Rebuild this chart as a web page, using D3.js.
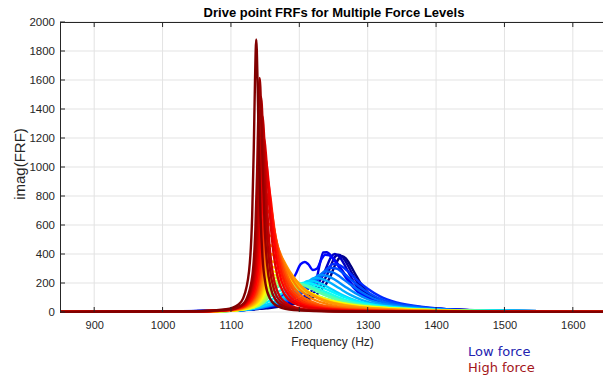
<!DOCTYPE html>
<html>
<head>
<meta charset="utf-8">
<script src="https://cdn.jsdelivr.net/npm/d3@7"></script>
<style>
  html, body { margin: 0; padding: 0; background: #ffffff; }
  svg { display: block; }
</style>
</head>
<body>
<svg id="chart" width="603" height="376"></svg>
<script>
// ---------------- DATA ----------------
const chartTitle = "Drive point FRFs for Multiple Force Levels";
const xAxisLabel = "Frequency (Hz)";
const yAxisLabel = "imag(FRF)";
const xTickValues = [900, 1000, 1100, 1200, 1300, 1400, 1500, 1600];
const yTickValues = [0, 200, 400, 600, 800, 1000, 1200, 1400, 1600, 1800, 2000];
const legendLabels = ["Low force", "High force"];

// normalised force level of each measured curve (0 = lowest, 1 = highest)
const forceLevels = [
  0.000, 0.033, 0.066, 0.099, 0.132, 0.165, 0.198, 0.231, 0.264, 0.297, 0.330, 0.363, 0.396, 0.429, 0.462,
  0.500, 0.525, 0.550, 0.575, 0.600, 0.625, 0.650, 0.675, 0.700, 0.725, 0.750,
  0.775, 0.800, 0.825, 0.850, 0.875, 0.900, 0.925, 0.950, 0.975, 1.000
];

// low-force curves: [frequency (Hz), imag(FRF)] pairs
const lowForceCurves = [
  [[850,1],[1000,3],[1100,10],[1150,25],[1200,65],[1230,140],[1245,240],[1252,320],[1258,370],[1263,385],[1268,370],[1275,320],[1282,260],[1290,195],[1300,135],[1315,85],[1335,52],[1370,32],[1420,18],[1500,7],[1650,2]],
  [[850,1],[1000,3],[1100,11],[1150,28],[1200,75],[1225,150],[1240,250],[1247,330],[1252,380],[1257,395],[1263,380],[1270,330],[1278,260],[1286,195],[1296,135],[1310,88],[1330,55],[1365,33],[1420,18],[1500,7],[1650,2]],
  [[850,1],[1000,3],[1100,12],[1150,30],[1195,80],[1220,155],[1235,255],[1242,335],[1247,385],[1252,400],[1258,385],[1265,335],[1273,265],[1281,200],[1291,140],[1305,92],[1325,57],[1360,34],[1420,18],[1500,7],[1650,2]],
  [[850,1],[1000,4],[1100,13],[1150,35],[1200,120],[1225,230],[1230,330],[1235,410],[1240,412],[1248,380],[1258,320],[1268,250],[1280,175],[1295,115],[1315,72],[1340,45],[1400,22],[1500,7],[1650,2]],
  [[850,1],[1000,4],[1100,15],[1150,45],[1175,110],[1185,190],[1194,255],[1202,330],[1208,345],[1213,330],[1220,290],[1226,300],[1232,360],[1238,395],[1244,390],[1252,350],[1262,280],[1272,210],[1285,140],[1300,95],[1320,60],[1350,38],[1400,20],[1500,6],[1650,2]],
  [[850,1],[1000,3],[1090,7],[1110,11],[1130,18],[1150,34],[1180,70],[1204,130],[1222,200],[1237,270],[1249,330],[1258,325],[1270,285],[1284,222],[1300,160],[1318,108],[1342,66],[1385,34],[1460,11],[1650,2]],
  [[850,1],[1000,3],[1090,7],[1110,11],[1130,19],[1150,35],[1178,70],[1200,125],[1216,185],[1231,250],[1244,305],[1254,300],[1266,262],[1280,205],[1296,148],[1314,100],[1338,62],[1380,32],[1460,10],[1650,2]],
  [[850,1],[1000,3],[1090,7],[1110,11],[1130,19],[1150,36],[1175,70],[1195,120],[1210,172],[1225,230],[1238,280],[1248,275],[1260,242],[1274,192],[1290,140],[1308,95],[1332,58],[1375,30],[1450,10],[1650,2]],
  [[850,1],[1000,3],[1090,7],[1110,11],[1130,20],[1150,38],[1172,70],[1190,115],[1205,165],[1218,215],[1230,255],[1240,250],[1252,222],[1266,178],[1282,130],[1300,88],[1325,54],[1370,27],[1450,10],[1650,2]],
  [[850,1],[1000,3],[1060,4],[1090,7],[1110,12],[1130,21],[1150,40],[1170,72],[1186,115],[1200,160],[1212,205],[1222,235],[1232,230],[1244,205],[1258,165],[1274,120],[1292,82],[1318,50],[1365,25],[1450,9],[1650,2]],
  [[850,1],[1000,3],[1060,4],[1090,7],[1110,12],[1130,22],[1150,45],[1168,80],[1182,120],[1194,160],[1204,192],[1213,215],[1222,212],[1234,190],[1248,155],[1264,115],[1283,78],[1310,48],[1360,24],[1450,9],[1650,2]],
  [[850,1],[1000,3],[1060,4],[1090,7],[1105,12],[1120,22],[1135,38],[1150,62],[1163,95],[1175,130],[1186,162],[1196,186],[1205,200],[1215,198],[1227,182],[1242,152],[1258,118],[1278,82],[1305,52],[1355,26],[1440,10],[1650,2]],
  [[850,1],[1000,3],[1060,5],[1090,8],[1105,14],[1120,25],[1132,42],[1144,70],[1156,102],[1167,135],[1178,162],[1188,182],[1196,195],[1206,192],[1218,178],[1233,150],[1250,115],[1270,80],[1300,50],[1350,25],[1440,9],[1650,2]],
  [[850,1],[1000,3],[1060,5],[1090,9],[1105,16],[1118,28],[1128,48],[1138,78],[1148,112],[1158,145],[1168,172],[1178,190],[1188,200],[1200,195],[1213,178],[1228,148],[1245,112],[1265,78],[1295,48],[1345,24],[1430,9],[1650,2]],
  [[850,1],[1000,3],[1060,5],[1090,10],[1105,18],[1118,32],[1128,55],[1136,90],[1143,130],[1150,165],[1160,198],[1170,215],[1180,220],[1192,212],[1205,190],[1220,155],[1238,115],[1260,78],[1290,48],[1340,24],[1420,9],[1650,2]]
];

// high-force curves (force level 0.5 -> 1.0): [frequency (Hz), imag(FRF)] pairs
const highForceCurves = [
  [[850,1],[1010,2],[1074,5],[1100.2,9],[1132,28],[1148.2,65],[1156.9,111],[1163.3,157],[1170,185],[1198.1,157],[1224.7,111],[1261.3,65],[1304,37],[1371,19],[1462,7],[1570,2],[1650,1]],
  [[850,1],[1018,2],[1078,5],[1102.6,10],[1132.3,30],[1147.6,70],[1155.8,120],[1161.7,170],[1168,200],[1194.9,170],[1220.2,120],[1255,70],[1296,40],[1360,20],[1447,7],[1560,2],[1650,1]],
  [[850,1],[1026,2],[1082,6],[1105,11],[1132.7,32],[1146.9,75],[1154.6,129],[1160.1,183],[1166,215],[1191.6,183],[1215.8,129],[1249,75],[1288,43],[1349,22],[1432,8],[1550,2],[1650,1]],
  [[850,1],[904,1],[1034,2],[1086,6],[1107.3,12],[1133.1,35],[1146.3,82],[1153.4,141],[1158.5,200],[1164,235],[1188.4,200],[1211.3,141],[1243,82],[1280,47],[1338,24],[1417,9],[1540,2],[1650,1]],
  [[850,1],[922,1],[1042,3],[1090,7],[1109.7,13],[1133.4,38],[1145.6,89],[1152.2,153],[1157,217],[1162,255],[1185.1,217],[1206.9,153],[1237,89],[1272,51],[1327,26],[1402,10],[1530,2],[1650,1]],
  [[850,1],[931,1],[1046,3],[1092,8],[1110.9,14],[1133.6,42],[1145.3,98],[1151.6,168],[1156.2,238],[1161,280],[1182.8,238],[1203.4,168],[1231.9,98],[1265,56],[1317,28],[1388,11],[1525,2],[1650,1]],
  [[850,1],[940,1],[1050,3],[1094,8],[1112,16],[1133.8,47],[1145,109],[1151,186],[1155.4,264],[1160,310],[1179.7,264],[1198.4,186],[1224,109],[1254,62],[1301,31],[1365,14],[1489,3],[1650,1]],
  [[850,1],[949,1],[1054,4],[1096,10],[1113.2,18],[1134,53],[1144.7,123],[1150.4,210],[1154.6,298],[1159,350],[1176.6,298],[1193.3,210],[1216.2,123],[1243,70],[1285,35],[1342,16],[1453,4],[1650,1]],
  [[850,1],[958,1],[1058,4],[1098,11],[1114.4,20],[1134.2,60],[1144.4,140],[1149.8,240],[1153.8,340],[1158,400],[1174.6,340],[1190.3,240],[1211.9,140],[1237.2,80],[1276.8,40],[1330.7,20],[1435,6],[1650,1]],
  [[850,1],[967,1],[1062,5],[1100,12],[1115.6,23],[1134.4,69],[1144.1,161],[1149.2,276],[1153,391],[1157,460],[1172.1,391],[1186.4,276],[1206.1,161],[1229,92],[1265,46],[1314,23],[1409,7],[1589,1],[1650,1]],
  [[850,1],[976,1],[1066,5],[1102,14],[1116.8,27],[1134.6,80],[1143.7,185],[1148.7,318],[1152.2,450],[1156,530],[1168.1,450],[1179.5,318],[1195.2,185],[1213.6,106],[1242.4,53],[1281.5,27],[1357.6,11],[1501.6,3],[1650,1]],
  [[850,1],[985,2],[1070,6],[1104,17],[1118,31],[1134.8,92],[1143.4,213],[1148.1,366],[1151.4,518],[1155,610],[1164.6,518],[1173.6,366],[1186.1,213],[1200.6,122],[1223.4,61],[1254.4,31],[1314.6,12],[1428.6,4],[1629,1],[1650,1]],
  [[850,1],[994,2],[1074,7],[1106,19],[1119.1,35],[1135,105],[1143.1,245],[1147.5,420],[1150.6,595],[1154,700],[1162,595],[1169.7,420],[1180.2,245],[1192.4,140],[1211.6,70],[1237.8,35],[1288.4,14],[1384.4,5],[1569,1],[1650,1]],
  [[850,1],[1003,2],[1078,8],[1108,22],[1120.3,41],[1135.1,122],[1142.8,284],[1146.9,486],[1149.9,689],[1153,810],[1159.8,689],[1166.2,486],[1175.1,284],[1185.4,162],[1201.6,81],[1223.7,41],[1266.4,16],[1347.4,6],[1509,1],[1650,1]],
  [[850,1],[1012,2],[1082,9],[1110,25],[1121.5,47],[1135.3,140],[1142.5,326],[1146.3,558],[1149.1,790],[1152,930],[1157.8,790],[1163.3,558],[1170.8,326],[1179.6,186],[1193.4,93],[1212,47],[1248.6,19],[1317.6,6],[1496,2],[1650,1]],
  [[850,1],[1020,3],[1085,10],[1111,29],[1121.7,53],[1134.5,159],[1141.1,371],[1144.7,636],[1147.3,901],[1150,1060],[1155,901],[1159.8,636],[1166.3,371],[1174,212],[1186,106],[1202.3,53],[1234,21],[1294,7],[1450,2],[1650,1]],
  [[850,1],[1028,3],[1088,12],[1112,32],[1121.8,60],[1133.7,180],[1139.8,420],[1143.1,720],[1145.5,1020],[1148,1200],[1152.3,1020],[1156.3,720],[1161.9,420],[1168.4,240],[1178.6,120],[1192.4,60],[1219.4,24],[1270.4,8],[1402,2],[1650,0]],
  [[850,1],[1036,3],[1091,13],[1113,36],[1122,68],[1132.9,203],[1138.5,473],[1141.5,810],[1143.7,1148],[1146,1350],[1149.2,1148],[1152.1,810],[1156.2,473],[1161,270],[1168.5,135],[1178.7,68],[1198.5,27],[1236,9],[1333,2],[1650,0]],
  [[850,1],[1044,4],[1094,15],[1114,40],[1122.2,74],[1132.1,222],[1137.2,519],[1139.9,890],[1141.9,1261],[1144,1483],[1146.7,1261],[1149.3,890],[1152.9,519],[1157,297],[1163.5,148],[1172.3,74],[1189.5,30],[1222,10],[1306,2],[1650,0]],
  [[850,1],[1050,4],[1096,16],[1114.4,44],[1121.9,81],[1131.1,242],[1135.7,565],[1138.3,968],[1140.1,1372],[1142,1614],[1144.3,1372],[1146.5,968],[1149.5,565],[1153,323],[1158.5,161],[1166,81],[1180.5,32],[1208,11],[1279,3],[1650,0]],
  [[850,1],[1049,5],[1093,19],[1110.6,51],[1117.8,94],[1126.5,282],[1131,658],[1133.4,1128],[1135.2,1598],[1137,1880],[1138.9,1598],[1140.8,1128],[1143.3,658],[1146.2,376],[1150.8,188],[1157,94],[1169,38],[1192,13],[1252,3],[1650,0]]
];

// all curves, ordered from lowest to highest force level (high force drawn on top)
const frfCurves = lowForceCurves.concat(highForceCurves);

// ---------------- LAYOUT ----------------
const W = 603, H = 376;
const margin = { left: 60, top: 22, right: -4, bottom: 64 };
const plotRight = W - margin.right;   // axes box continues past the window edge
const plotBottom = H - margin.bottom;

const svg = d3.select("#chart");

const x = d3.scaleLinear().domain([850, 1650]).range([margin.left, plotRight]);
const y = d3.scaleLinear().domain([0, 2000]).range([plotBottom, margin.top]);

// MATLAB "jet" colour map (style only)
function jet(t) {
  const c = v => Math.max(0, Math.min(1, v));
  const r = c(1.5 - Math.abs(4 * t - 3));
  const g = c(1.5 - Math.abs(4 * t - 2));
  const b = c(1.5 - Math.abs(4 * t - 1));
  return d3.rgb(r * 255, g * 255, b * 255).formatHex();
}

const fontFamily = "'Liberation Sans', Arial, Helvetica, sans-serif";
const gridColor = "#e3e3e3";
const axisColor = "#262626";
const tickTextColor = "#262626";

// grid
const grid = svg.append("g").attr("class", "grid");
grid.selectAll("line.gx").data(xTickValues).join("line")
  .attr("x1", d => x(d)).attr("x2", d => x(d))
  .attr("y1", margin.top).attr("y2", plotBottom)
  .attr("stroke", gridColor).attr("stroke-width", 1);
grid.selectAll("line.gy").data(yTickValues).join("line")
  .attr("x1", margin.left).attr("x2", plotRight)
  .attr("y1", d => y(d)).attr("y2", d => y(d))
  .attr("stroke", gridColor).attr("stroke-width", 1);

// clip
svg.append("clipPath").attr("id", "plotClip")
  .append("rect").attr("x", margin.left).attr("y", margin.top - 2)
  .attr("width", plotRight - margin.left).attr("height", plotBottom - margin.top + 3);

// curves (low force first, high force drawn on top)
const line = d3.line()
  .x(d => x(d[0]))
  .y(d => y(d[1]))
  .curve(d3.curveMonotoneX);

svg.append("g").attr("clip-path", "url(#plotClip)")
  .selectAll("path").data(frfCurves).join("path")
  .attr("d", line)
  .attr("fill", "none")
  .attr("stroke", (d, i) => jet(forceLevels[i]))
  .attr("stroke-width", 2.4)
  .attr("stroke-linejoin", "round");

// axes
const xAxisBottom = d3.axisBottom(x).tickValues(xTickValues).tickFormat(d3.format("d")).tickSize(0).tickPadding(9);
const gxb = svg.append("g").attr("transform", `translate(0,${plotBottom})`).call(xAxisBottom);
gxb.select(".domain").remove();
gxb.selectAll("text").attr("fill", tickTextColor).style("font-family", fontFamily).style("font-size", "11px");

const yAxisLeft = d3.axisLeft(y).tickValues(yTickValues).tickFormat(d3.format("d")).tickSize(0).tickPadding(5);
const gyl = svg.append("g").attr("transform", `translate(${margin.left},0)`).call(yAxisLeft);
gyl.select(".domain").remove();
gyl.selectAll("text").attr("fill", tickTextColor).style("font-family", fontFamily).style("font-size", "11.5px");

// inward tick marks (top, bottom, left)
const ticks = svg.append("g");
ticks.selectAll("line.tt").data(xTickValues).join("line")
  .attr("x1", d => x(d)).attr("x2", d => x(d))
  .attr("y1", margin.top).attr("y2", margin.top + 5)
  .attr("stroke", axisColor).attr("stroke-width", 1);
ticks.selectAll("line.tb").data(xTickValues).join("line")
  .attr("x1", d => x(d)).attr("x2", d => x(d))
  .attr("y1", plotBottom).attr("y2", plotBottom - 5)
  .attr("stroke", axisColor).attr("stroke-width", 1);
ticks.selectAll("line.tl").data(yTickValues).join("line")
  .attr("x1", margin.left).attr("x2", margin.left + 5)
  .attr("y1", d => y(d)).attr("y2", d => y(d))
  .attr("stroke", axisColor).attr("stroke-width", 1);

// box lines
svg.append("line").attr("x1", margin.left).attr("x2", plotRight)
  .attr("y1", margin.top + 0.5).attr("y2", margin.top + 0.5)
  .attr("stroke", axisColor).attr("stroke-width", 1);
svg.append("line").attr("x1", margin.left + 0.5).attr("x2", margin.left + 0.5)
  .attr("y1", margin.top).attr("y2", plotBottom)
  .attr("stroke", axisColor).attr("stroke-width", 1);

// title
svg.append("text")
  .attr("x", 334).attr("y", 17)
  .attr("text-anchor", "middle")
  .style("font-family", fontFamily).style("font-size", "13px").style("font-weight", "bold")
  .attr("fill", "#000")
  .text(chartTitle);

// axis labels
svg.append("text")
  .attr("x", (margin.left + W) / 2 + 1).attr("y", 346)
  .attr("text-anchor", "middle")
  .style("font-family", fontFamily).style("font-size", "12px")
  .attr("fill", tickTextColor)
  .text(xAxisLabel);

svg.append("text")
  .attr("transform", `translate(25,164) rotate(-90)`)
  .attr("text-anchor", "middle")
  .style("font-family", fontFamily).style("font-size", "15px")
  .attr("fill", tickTextColor)
  .text(yAxisLabel);

// legend text
const legendColors = ["#2323b0", "#a3161a"];
svg.selectAll("text.legend").data(legendLabels).join("text")
  .attr("class", "legend")
  .attr("x", 468).attr("y", (d, i) => 356 + i * 16)
  .style("font-family", "'DejaVu Sans', Verdana, sans-serif").style("font-size", "13px")
  .attr("fill", (d, i) => legendColors[i])
  .text(d => d);
</script>
</body>
</html>
